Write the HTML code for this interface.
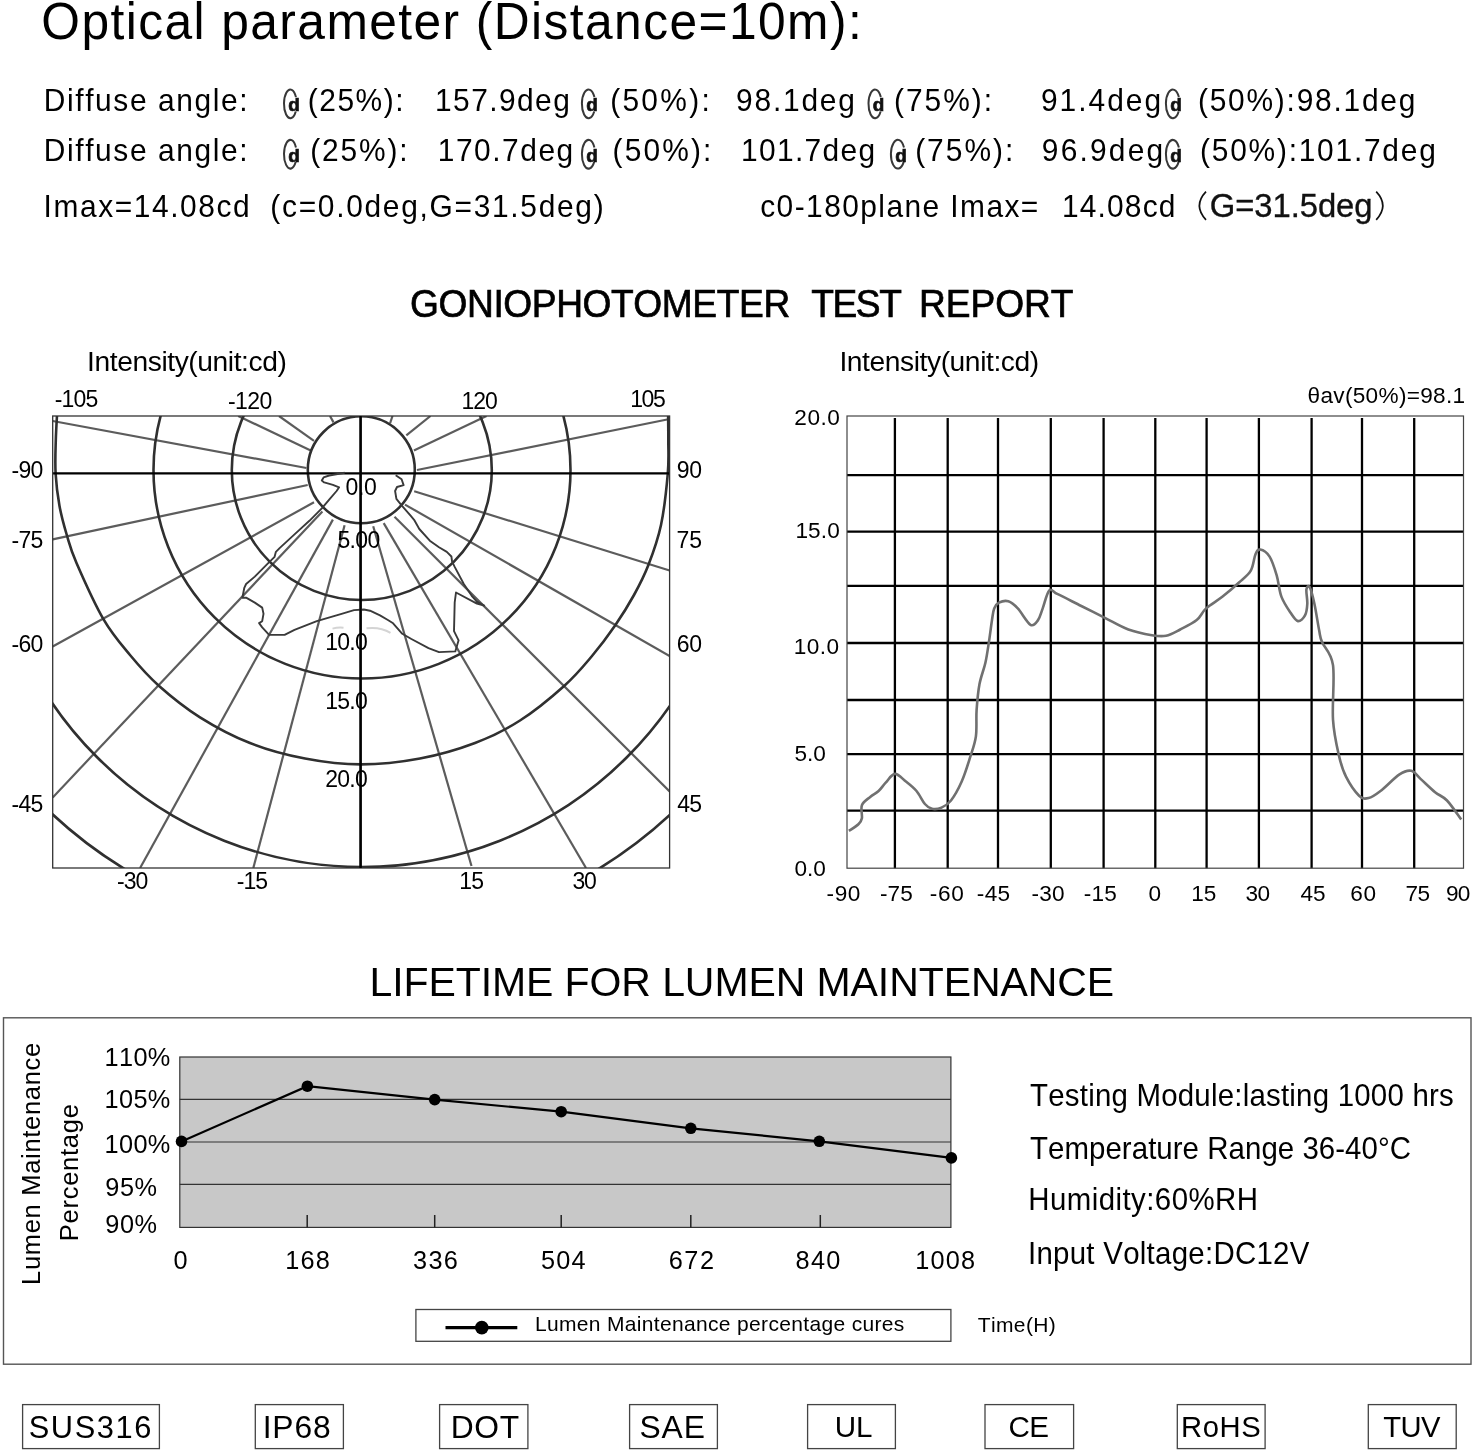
<!DOCTYPE html>
<html><head><meta charset="utf-8"><style>
html,body{margin:0;padding:0;background:#fff;}
svg{display:block;filter:blur(0.35px);}
text{font-family:"Liberation Sans",sans-serif;font-kerning:none;}
</style></head><body>
<svg width="1474" height="1451" viewBox="0 0 1474 1451">
<rect width="1474" height="1451" fill="#fff"/>
<text transform="translate(41.34,39.00) scale(0.96,1)" font-size="51.8" letter-spacing="1.474" fill="#000">Optical parameter (Distance=10m):</text>
<text transform="translate(43.85,110.60) scale(0.95,1)" font-size="31.5" letter-spacing="1.676" fill="#000">Diffuse angle:</text>
<path d="M295.96,97.11 A6.35,14.35 0 1 0 295.74,111.45" fill="none" stroke="#383838" stroke-width="2.0"/>
<text x="288.23" y="111.40" font-size="18.86" font-weight="bold" fill="#111" stroke="#111" stroke-width="0.7">d</text>
<text transform="translate(307.84,110.60) scale(0.95,1)" font-size="31.5" letter-spacing="1.589" fill="#000">(25%):</text>
<text transform="translate(435.02,110.60) scale(0.95,1)" font-size="31.5" letter-spacing="1.503" fill="#000">157.9deg</text>
<path d="M594.42,97.11 A6.65,14.35 0 1 0 594.19,111.45" fill="none" stroke="#383838" stroke-width="2.0"/>
<text x="586.13" y="111.40" font-size="18.86" font-weight="bold" fill="#111" stroke="#111" stroke-width="0.7">d</text>
<text transform="translate(610.14,110.60) scale(0.95,1)" font-size="31.5" letter-spacing="2.410" fill="#000">(50%):</text>
<text transform="translate(736.10,110.60) scale(0.95,1)" font-size="31.5" letter-spacing="1.853" fill="#000">98.1deg</text>
<path d="M880.83,97.11 A6.55,14.35 0 1 0 880.60,111.45" fill="none" stroke="#383838" stroke-width="2.0"/>
<text x="872.73" y="111.40" font-size="18.86" font-weight="bold" fill="#111" stroke="#111" stroke-width="0.7">d</text>
<text transform="translate(893.94,110.60) scale(0.95,1)" font-size="31.5" letter-spacing="2.116" fill="#000">(75%):</text>
<text transform="translate(1040.90,110.60) scale(0.95,1)" font-size="31.5" letter-spacing="2.116" fill="#000">91.4deg</text>
<path d="M1178.89,97.11 A6.90,14.35 0 1 0 1178.65,111.45" fill="none" stroke="#383838" stroke-width="2.0"/>
<text x="1170.13" y="111.40" font-size="18.86" font-weight="bold" fill="#111" stroke="#111" stroke-width="0.7">d</text>
<text transform="translate(1197.94,110.60) scale(0.95,1)" font-size="31.5" letter-spacing="1.857" fill="#000">(50%):98.1deg</text>
<text transform="translate(43.85,161.00) scale(0.95,1)" font-size="31.5" letter-spacing="1.676" fill="#000">Diffuse angle:</text>
<path d="M295.96,147.51 A6.35,14.35 0 1 0 295.74,161.85" fill="none" stroke="#383838" stroke-width="2.0"/>
<text x="288.23" y="161.80" font-size="18.86" font-weight="bold" fill="#111" stroke="#111" stroke-width="0.7">d</text>
<text transform="translate(310.34,161.00) scale(0.95,1)" font-size="31.5" letter-spacing="1.905" fill="#000">(25%):</text>
<text transform="translate(437.72,161.00) scale(0.95,1)" font-size="31.5" letter-spacing="1.608" fill="#000">170.7deg</text>
<path d="M594.42,147.51 A6.65,14.35 0 1 0 594.19,161.85" fill="none" stroke="#383838" stroke-width="2.0"/>
<text x="586.13" y="161.80" font-size="18.86" font-weight="bold" fill="#111" stroke="#111" stroke-width="0.7">d</text>
<text transform="translate(612.54,161.00) scale(0.95,1)" font-size="31.5" letter-spacing="2.263" fill="#000">(50%):</text>
<text transform="translate(741.02,161.00) scale(0.95,1)" font-size="31.5" letter-spacing="1.398" fill="#000">101.7deg</text>
<path d="M903.99,147.51 A6.95,14.35 0 1 0 903.74,161.85" fill="none" stroke="#383838" stroke-width="2.0"/>
<text x="895.13" y="161.80" font-size="18.86" font-weight="bold" fill="#111" stroke="#111" stroke-width="0.7">d</text>
<text transform="translate(915.14,161.00) scale(0.95,1)" font-size="31.5" letter-spacing="2.116" fill="#000">(75%):</text>
<text transform="translate(1041.80,161.00) scale(0.95,1)" font-size="31.5" letter-spacing="2.309" fill="#000">96.9deg</text>
<path d="M1178.89,147.51 A6.90,14.35 0 1 0 1178.65,161.85" fill="none" stroke="#383838" stroke-width="2.0"/>
<text x="1170.13" y="161.80" font-size="18.86" font-weight="bold" fill="#111" stroke="#111" stroke-width="0.7">d</text>
<text transform="translate(1200.04,161.00) scale(0.95,1)" font-size="31.5" letter-spacing="1.849" fill="#000">(50%):101.7deg</text>
<text transform="translate(43.54,217.30) scale(0.95,1)" font-size="31.5" letter-spacing="1.653" fill="#000">Imax=14.08cd</text>
<text transform="translate(270.34,217.30) scale(0.95,1)" font-size="31.5" letter-spacing="1.783" fill="#000">(c=0.0deg,G=31.5deg)</text>
<text transform="translate(760.23,217.30) scale(0.95,1)" font-size="31.5" letter-spacing="1.499" fill="#000">c0-180plane Imax=</text>
<text transform="translate(1061.92,217.30) scale(0.95,1)" font-size="31.5" letter-spacing="1.231" fill="#000">14.08cd</text>
<path d="M1206,191.6 Q1192.8,205.6 1206,219.8" fill="none" stroke="#111" stroke-width="1.7"/>
<text x="1209.85" y="216.90" font-size="32.8" letter-spacing="-0.071" fill="#111" stroke="#111" stroke-width="0.35">G=31.5deg</text>
<path d="M1376.2,191.6 Q1389.4,205.6 1376.2,219.8" fill="none" stroke="#111" stroke-width="1.7"/>
<text transform="translate(410.03,316.90) scale(0.96,1)" font-size="38.7" letter-spacing="-0.423" fill="#000" stroke="#000" stroke-width="0.7">GONIOPHOTOMETER</text>
<text transform="translate(811.17,316.90) scale(0.96,1)" font-size="38.7" letter-spacing="-1.479" fill="#000" stroke="#000" stroke-width="0.7">TEST</text>
<text transform="translate(918.95,316.90) scale(0.96,1)" font-size="38.7" letter-spacing="-0.044" fill="#000" stroke="#000" stroke-width="0.7">REPORT</text>
<defs><clipPath id="pc"><rect x="52.7" y="416.0" width="616.9" height="452.0"/></clipPath></defs>
<g clip-path="url(#pc)" fill="none">
<line x1="306.4" y1="468.0" x2="52.7" y2="421.0" stroke="#5c5c5c" stroke-width="2.2"/>
<line x1="310.7" y1="450.6" x2="238.2" y2="416.0" stroke="#5c5c5c" stroke-width="2.2"/>
<line x1="314.0" y1="440.8" x2="279.0" y2="416.0" stroke="#5c5c5c" stroke-width="2.2"/>
<line x1="333.5" y1="422.4" x2="330.0" y2="416.0" stroke="#5c5c5c" stroke-width="2.2"/>
<line x1="390.0" y1="423.5" x2="392.5" y2="416.0" stroke="#5c5c5c" stroke-width="2.2"/>
<line x1="406.3" y1="435.4" x2="430.5" y2="416.0" stroke="#5c5c5c" stroke-width="2.2"/>
<line x1="413.9" y1="450.6" x2="486.5" y2="416.0" stroke="#5c5c5c" stroke-width="2.2"/>
<line x1="417.0" y1="470.0" x2="669.6" y2="419.0" stroke="#5c5c5c" stroke-width="2.2"/>
<line x1="307.7" y1="485.0" x2="52.7" y2="539.3" stroke="#5c5c5c" stroke-width="2.2"/>
<line x1="314.0" y1="502.3" x2="52.7" y2="646.5" stroke="#5c5c5c" stroke-width="2.2"/>
<line x1="322.4" y1="511.5" x2="52.7" y2="797.5" stroke="#5c5c5c" stroke-width="2.2"/>
<line x1="332.9" y1="519.6" x2="140.1" y2="868.0" stroke="#5c5c5c" stroke-width="2.2"/>
<line x1="344.6" y1="525.2" x2="253.3" y2="868.0" stroke="#5c5c5c" stroke-width="2.2"/>
<line x1="373.2" y1="526.3" x2="471.5" y2="866.0" stroke="#5c5c5c" stroke-width="2.2"/>
<line x1="383.7" y1="523.1" x2="586.0" y2="868.0" stroke="#5c5c5c" stroke-width="2.2"/>
<line x1="394.5" y1="516.7" x2="669.6" y2="791.5" stroke="#5c5c5c" stroke-width="2.2"/>
<line x1="405.0" y1="504.6" x2="669.6" y2="656.0" stroke="#5c5c5c" stroke-width="2.2"/>
<line x1="414.2" y1="491.2" x2="669.6" y2="570.5" stroke="#5c5c5c" stroke-width="2.2"/>
<circle cx="361.3" cy="469.8" r="53.5" stroke="#303030" stroke-width="2.6"/>
<circle cx="361.8" cy="470" r="130" stroke="#303030" stroke-width="2.6"/>
<circle cx="362" cy="470" r="208.5" stroke="#303030" stroke-width="2.6"/>
<path d="M57.60,405.00 C57.30,410.83 56.13,428.60 55.80,440.00 C55.47,451.40 54.98,462.40 55.60,473.40 C56.22,484.40 57.63,495.73 59.50,506.00 C61.37,516.27 63.97,525.50 66.80,535.00 C69.63,544.50 70.40,548.98 76.50,563.00 C82.60,577.02 94.48,603.77 103.40,619.10 C112.32,634.43 120.77,643.90 130.00,655.00 C139.23,666.10 147.13,675.32 158.80,685.70 C170.47,696.08 184.80,707.75 200.00,717.30 C215.20,726.85 232.50,736.13 250.00,743.00 C267.50,749.87 286.50,754.93 305.00,758.50 C323.50,762.07 341.83,764.40 361.00,764.40 C380.17,764.40 401.00,762.07 420.00,758.50 C439.00,754.93 458.33,749.33 475.00,743.00 C491.67,736.67 505.10,730.05 520.00,720.50 C534.90,710.95 552.40,696.45 564.40,685.70 C576.40,674.95 583.55,666.03 592.00,656.00 C600.45,645.97 608.10,635.67 615.10,625.50 C622.10,615.33 628.47,605.03 634.00,595.00 C639.53,584.97 643.80,576.97 648.30,565.30 C652.80,553.63 657.75,540.32 661.00,525.00 C664.25,509.68 666.58,487.57 667.80,473.40 C669.02,459.23 668.27,451.40 668.30,440.00 C668.33,428.60 668.05,410.83 668.00,405.00" stroke="#303030" stroke-width="2.6"/>
<circle cx="362" cy="492.4" r="374.6" stroke="#303030" stroke-width="2.6"/>
<circle cx="361.5" cy="480.9" r="454.6" stroke="#303030" stroke-width="2.6"/>
<line x1="52.7" y1="473.3" x2="669.6" y2="473.3" stroke="#000" stroke-width="2.2"/>
<line x1="360.6" y1="416" x2="360.6" y2="868" stroke="#000" stroke-width="2.2"/>
<path d="M344.7,472.7 L329.2,475.5 L323.6,477.4 L321.8,480.5 L324.2,482.4 L332.9,484.8 L339.1,487.3 L336.6,491 L329.2,499.7 L321.8,508.4 L309.4,520.8 L294.5,534.4 L279.6,548.1 L275.9,551.8 L274.6,556.8 L267.2,564.2 L254.8,576.6 L246.1,584 L244.3,587.8 L242.4,597.7 L246.1,597.7 L254.8,602.6 L262.2,607.6 L263.5,613.8 L262.2,621.2 L259.1,623.1 L262.2,627.4 L269.1,634.9 L284.6,634.9 L294.5,629.9 L316.8,621.2 L341.6,613.8 L354,610.1 L363.9,609.5 L370,610.7 L380,615.4 L387.9,620 L393.1,623.3 L402.3,633.8 L411.4,639 L428.5,648.2 L439,652.1 L455.3,651.4 L458.6,640.3 L454,631.1 L454.7,602.3 L456,592.5 L476.9,603.6 L484.2,605.6 L476.9,601.7 L471.7,595.8 L463.8,584 L454.7,566.9 L452.1,561.7 L451.4,556.5 L446.8,551.9 L439,547.3 L429.8,540.7 L419.3,529 L414.1,519.8 L410.8,515.9 L401.6,505.4 L396.4,498.8 L395.1,491 L397,487 L403.6,485.1 L401.6,479.2 L395.7,475.2" stroke="#3a3a3a" stroke-width="1.9" stroke-linejoin="round" fill="none"/>
<path d="M332.5,628.6 Q338,627.2 343.5,627.8" stroke="#d4d4d4" stroke-width="2" fill="none"/>
<path d="M366.5,628.3 Q380,626.5 390.5,632.8" stroke="#d4d4d4" stroke-width="2" fill="none"/>
</g>
<rect x="52.7" y="416.0" width="616.9" height="452.0" fill="none" stroke="#333" stroke-width="1.3"/>
<text x="87.10" y="370.60" font-size="28.2" letter-spacing="-0.414" fill="#000">Intensity(unit:cd)</text>
<text x="54.68" y="406.90" font-size="23" letter-spacing="-0.815" fill="#000">-105</text>
<text x="227.98" y="409.00" font-size="23" letter-spacing="-0.538" fill="#000">-120</text>
<text x="461.45" y="409.00" font-size="23" letter-spacing="-1.062" fill="#000">120</text>
<text x="630.25" y="406.90" font-size="23" letter-spacing="-1.478" fill="#000">105</text>
<text x="11.58" y="477.50" font-size="23" letter-spacing="-0.761" fill="#000">-90</text>
<text x="11.58" y="548.20" font-size="23" letter-spacing="-0.727" fill="#000">-75</text>
<text x="11.58" y="651.70" font-size="23" letter-spacing="-0.761" fill="#000">-60</text>
<text x="11.58" y="811.50" font-size="23" letter-spacing="-0.727" fill="#000">-45</text>
<text x="676.72" y="477.50" font-size="23" letter-spacing="-0.306" fill="#000">90</text>
<text x="676.62" y="548.20" font-size="23" letter-spacing="-0.138" fill="#000">75</text>
<text x="676.63" y="651.70" font-size="23" letter-spacing="-0.217" fill="#000">60</text>
<text x="677.27" y="811.50" font-size="23" letter-spacing="-0.789" fill="#000">45</text>
<text x="117.08" y="889.00" font-size="23" letter-spacing="-0.961" fill="#000">-30</text>
<text x="236.78" y="889.00" font-size="23" letter-spacing="-0.977" fill="#000">-15</text>
<text x="459.25" y="889.00" font-size="23" letter-spacing="-0.865" fill="#000">15</text>
<text x="572.52" y="889.00" font-size="23" letter-spacing="-1.409" fill="#000">30</text>
<text x="345.50" y="495.00" font-size="23" letter-spacing="-0.338" fill="#000">0.0</text>
<text x="337.48" y="548.40" font-size="23" letter-spacing="-0.682" fill="#000">5.00</text>
<text x="325.25" y="649.50" font-size="23" letter-spacing="-0.771" fill="#000">10.0</text>
<text x="325.25" y="708.60" font-size="23" letter-spacing="-0.771" fill="#000">15.0</text>
<text x="325.24" y="787.00" font-size="23" letter-spacing="-0.770" fill="#000">20.0</text>
<line x1="360.6" y1="416" x2="360.6" y2="868" stroke="#000" stroke-width="2.2"/>
<line x1="894.9" y1="418" x2="894.9" y2="868.2" stroke="#000" stroke-width="2.3"/>
<line x1="947.7" y1="418" x2="947.7" y2="868.2" stroke="#000" stroke-width="2.3"/>
<line x1="998.0" y1="418" x2="998.0" y2="868.2" stroke="#000" stroke-width="2.3"/>
<line x1="1050.8" y1="418" x2="1050.8" y2="868.2" stroke="#000" stroke-width="2.3"/>
<line x1="1103.6" y1="418" x2="1103.6" y2="868.2" stroke="#000" stroke-width="2.3"/>
<line x1="1155.3" y1="418" x2="1155.3" y2="868.2" stroke="#000" stroke-width="2.3"/>
<line x1="1206.6" y1="418" x2="1206.6" y2="868.2" stroke="#000" stroke-width="2.3"/>
<line x1="1258.9" y1="418" x2="1258.9" y2="868.2" stroke="#000" stroke-width="2.3"/>
<line x1="1311.6" y1="418" x2="1311.6" y2="868.2" stroke="#000" stroke-width="2.3"/>
<line x1="1362.0" y1="418" x2="1362.0" y2="868.2" stroke="#000" stroke-width="2.3"/>
<line x1="1414.2" y1="418" x2="1414.2" y2="868.2" stroke="#000" stroke-width="2.3"/>
<line x1="847.0" y1="475.1" x2="1463.5" y2="475.1" stroke="#000" stroke-width="2.3"/>
<line x1="847.0" y1="531.7" x2="1463.5" y2="531.7" stroke="#000" stroke-width="2.3"/>
<line x1="847.0" y1="585.8" x2="1463.5" y2="585.8" stroke="#000" stroke-width="2.3"/>
<line x1="847.0" y1="643.0" x2="1463.5" y2="643.0" stroke="#000" stroke-width="2.3"/>
<line x1="847.0" y1="700.0" x2="1463.5" y2="700.0" stroke="#000" stroke-width="2.3"/>
<line x1="847.0" y1="754.2" x2="1463.5" y2="754.2" stroke="#000" stroke-width="2.3"/>
<line x1="847.0" y1="810.7" x2="1463.5" y2="810.7" stroke="#000" stroke-width="2.3"/>
<rect x="847.0" y="416.0" width="616.5" height="452.20000000000005" fill="none" stroke="#444" stroke-width="1.2"/>
<path d="M848.90,830.90 C850.48,829.78 856.23,826.30 858.40,824.20 C860.57,822.10 861.32,821.47 861.90,818.30 C862.48,815.13 860.52,808.77 861.90,805.20 C863.28,801.63 867.42,799.27 870.20,796.90 C872.98,794.53 876.02,793.37 878.60,791.00 C881.18,788.63 882.98,785.55 885.70,782.70 C888.42,779.85 891.53,774.10 894.90,773.90 C898.27,773.70 902.30,778.65 905.90,781.50 C909.50,784.35 913.33,787.25 916.50,791.00 C919.67,794.75 922.32,801.03 924.90,804.00 C927.48,806.97 929.23,808.20 932.00,808.80 C934.77,809.40 938.33,808.98 941.50,807.60 C944.67,806.22 947.63,804.85 951.00,800.50 C954.37,796.15 958.53,788.63 961.70,781.50 C964.87,774.37 967.63,765.22 970.00,757.70 C972.37,750.18 974.80,744.32 975.90,736.40 C977.00,728.48 976.00,718.92 976.60,710.20 C977.20,701.48 978.03,692.02 979.50,684.10 C980.97,676.18 983.82,669.82 985.40,662.70 C986.98,655.58 987.90,648.52 989.00,641.40 C990.10,634.28 991.13,625.50 992.00,620.00 C992.87,614.50 993.05,611.28 994.20,608.40 C995.35,605.52 996.55,603.88 998.90,602.70 C1001.25,601.52 1005.15,600.35 1008.30,601.30 C1011.45,602.25 1014.10,604.48 1017.80,608.40 C1021.50,612.32 1027.13,622.85 1030.50,624.80 C1033.87,626.75 1035.97,622.83 1038.00,620.10 C1040.03,617.37 1040.82,613.33 1042.70,608.40 C1044.58,603.47 1046.78,592.87 1049.30,590.50 C1051.82,588.13 1052.47,591.62 1057.80,594.20 C1063.13,596.78 1073.45,602.07 1081.30,606.00 C1089.15,609.93 1097.05,613.88 1104.90,617.80 C1112.75,621.72 1120.57,626.60 1128.40,629.50 C1136.23,632.40 1145.62,634.17 1151.90,635.20 C1158.18,636.23 1161.38,636.65 1166.10,635.70 C1170.82,634.75 1175.10,632.10 1180.20,629.50 C1185.30,626.90 1192.38,623.62 1196.70,620.10 C1201.02,616.58 1201.78,612.32 1206.10,608.40 C1210.42,604.48 1217.12,600.92 1222.60,596.60 C1228.08,592.28 1234.30,586.82 1239.00,582.50 C1243.70,578.18 1248.05,575.42 1250.80,570.70 C1253.55,565.98 1253.93,557.73 1255.50,554.20 C1257.07,550.67 1257.85,549.10 1260.20,549.50 C1262.55,549.90 1266.85,552.28 1269.60,556.60 C1272.35,560.92 1274.73,568.73 1276.70,575.40 C1278.67,582.07 1279.05,590.32 1281.40,596.60 C1283.75,602.88 1288.05,609.02 1290.80,613.10 C1293.55,617.18 1295.53,620.72 1297.90,621.10 C1300.27,621.48 1303.43,618.30 1305.00,615.40 C1306.57,612.50 1307.07,608.02 1307.30,603.70 C1307.53,599.38 1306.00,592.25 1306.40,589.50 C1306.80,586.75 1308.37,584.83 1309.70,587.20 C1311.03,589.57 1312.83,596.57 1314.40,603.70 C1315.97,610.83 1317.83,623.62 1319.10,630.00 C1320.37,636.38 1319.68,636.15 1322.00,642.00 C1324.32,647.85 1331.17,652.15 1333.00,665.10 C1334.83,678.05 1332.02,704.65 1333.00,719.70 C1333.98,734.75 1336.73,745.90 1338.90,755.40 C1341.07,764.90 1342.63,769.98 1346.00,776.70 C1349.37,783.42 1355.33,792.13 1359.10,795.70 C1362.87,799.27 1365.03,798.88 1368.60,798.10 C1372.17,797.32 1375.35,794.95 1380.50,791.00 C1385.65,787.05 1394.37,777.77 1399.50,774.40 C1404.63,771.03 1407.75,770.02 1411.30,770.80 C1414.85,771.58 1416.83,775.53 1420.80,779.10 C1424.77,782.67 1430.73,788.63 1435.10,792.20 C1439.47,795.77 1442.65,795.95 1447.00,800.50 C1451.35,805.05 1458.83,816.33 1461.20,819.50" stroke="#707070" stroke-width="2.6" fill="none" stroke-linejoin="round"/>
<text x="839.40" y="370.60" font-size="28.2" letter-spacing="-0.414" fill="#000">Intensity(unit:cd)</text>
<text x="1307.53" y="403.30" font-size="22.6" letter-spacing="0.314" fill="#000">θav(50%)=98.1</text>
<text x="794.36" y="425.10" font-size="22.6" letter-spacing="0.511" fill="#000">20.0</text>
<text x="795.38" y="538.40" font-size="22.6" letter-spacing="0.173" fill="#000">15.0</text>
<text x="793.68" y="654.40" font-size="22.6" letter-spacing="0.473" fill="#000">10.0</text>
<text x="794.50" y="761.30" font-size="22.6" letter-spacing="-0.015" fill="#000">5.0</text>
<text x="794.52" y="875.80" font-size="22.6" letter-spacing="-0.026" fill="#000">0.0</text>
<text x="826.50" y="900.60" font-size="22.6" letter-spacing="0.611" fill="#000">-90</text>
<text x="880.00" y="900.60" font-size="22.6" letter-spacing="0.045" fill="#000">-75</text>
<text x="929.80" y="900.60" font-size="22.6" letter-spacing="0.661" fill="#000">-60</text>
<text x="976.80" y="900.60" font-size="22.6" letter-spacing="0.345" fill="#000">-45</text>
<text x="1031.40" y="900.60" font-size="22.6" letter-spacing="0.311" fill="#000">-30</text>
<text x="1083.70" y="900.60" font-size="22.6" letter-spacing="0.295" fill="#000">-15</text>
<text x="1148.62" y="900.60" font-size="22.6" letter-spacing="0.000" fill="#000">0</text>
<text x="1191.18" y="900.60" font-size="22.6" letter-spacing="0.032" fill="#000">15</text>
<text x="1245.44" y="900.60" font-size="22.6" letter-spacing="-0.395" fill="#000">30</text>
<text x="1300.38" y="900.60" font-size="22.6" letter-spacing="0.130" fill="#000">45</text>
<text x="1350.35" y="900.60" font-size="22.6" letter-spacing="0.592" fill="#000">60</text>
<text x="1405.44" y="900.60" font-size="22.6" letter-spacing="-0.430" fill="#000">75</text>
<text x="1445.94" y="900.60" font-size="22.6" letter-spacing="-0.696" fill="#000">90</text>
<text x="369.44" y="995.70" font-size="41" letter-spacing="-0.088" fill="#000">LIFETIME FOR LUMEN MAINTENANCE</text>
<rect x="3.5" y="1017.8" width="1467.5" height="346.4" fill="none" stroke="#555" stroke-width="1.4"/>
<rect x="179.8" y="1057.0" width="771.0999999999999" height="170.4000000000001" fill="#c8c8c8" stroke="#333" stroke-width="1.2"/>
<line x1="179.8" y1="1099.3" x2="950.9" y2="1099.3" stroke="#333" stroke-width="1.2"/>
<line x1="179.8" y1="1142.0" x2="950.9" y2="1142.0" stroke="#333" stroke-width="1.2"/>
<line x1="179.8" y1="1184.4" x2="950.9" y2="1184.4" stroke="#333" stroke-width="1.2"/>
<line x1="307.2" y1="1215" x2="307.2" y2="1227.4" stroke="#222" stroke-width="1.5"/>
<line x1="434.7" y1="1215" x2="434.7" y2="1227.4" stroke="#222" stroke-width="1.5"/>
<line x1="561.2" y1="1215" x2="561.2" y2="1227.4" stroke="#222" stroke-width="1.5"/>
<line x1="690.8" y1="1215" x2="690.8" y2="1227.4" stroke="#222" stroke-width="1.5"/>
<line x1="820.3" y1="1215" x2="820.3" y2="1227.4" stroke="#222" stroke-width="1.5"/>
<polyline points="181.5,1141.4 307.4,1086.2 434.7,1099.6 561.2,1111.7 690.8,1128.3 819.3,1141.3 951.4,1157.9" fill="none" stroke="#000" stroke-width="2.2"/>
<circle cx="181.5" cy="1141.4" r="5.8" fill="#000"/>
<circle cx="307.4" cy="1086.2" r="5.8" fill="#000"/>
<circle cx="434.7" cy="1099.6" r="5.8" fill="#000"/>
<circle cx="561.2" cy="1111.7" r="5.8" fill="#000"/>
<circle cx="690.8" cy="1128.3" r="5.8" fill="#000"/>
<circle cx="819.3" cy="1141.3" r="5.8" fill="#000"/>
<circle cx="951.4" cy="1157.9" r="5.8" fill="#000"/>
<text x="104.57" y="1065.60" font-size="25.3" letter-spacing="0.340" fill="#000">110%</text>
<text x="104.57" y="1107.80" font-size="25.3" letter-spacing="0.340" fill="#000">105%</text>
<text x="104.57" y="1152.50" font-size="25.3" letter-spacing="0.340" fill="#000">100%</text>
<text x="105.31" y="1196.30" font-size="25.3" letter-spacing="0.575" fill="#000">95%</text>
<text x="105.31" y="1232.70" font-size="25.3" letter-spacing="0.575" fill="#000">90%</text>
<text x="173.51" y="1268.50" font-size="25.3" letter-spacing="0.000" fill="#000">0</text>
<text x="285.17" y="1268.50" font-size="25.3" letter-spacing="1.257" fill="#000">168</text>
<text x="413.04" y="1268.50" font-size="25.3" letter-spacing="1.332" fill="#000">336</text>
<text x="540.99" y="1268.50" font-size="25.3" letter-spacing="1.171" fill="#000">504</text>
<text x="668.72" y="1268.50" font-size="25.3" letter-spacing="1.573" fill="#000">672</text>
<text x="795.60" y="1268.50" font-size="25.3" letter-spacing="1.288" fill="#000">840</text>
<text x="915.27" y="1268.50" font-size="25.3" letter-spacing="1.181" fill="#000">1008</text>
<text transform="translate(40.40,1282.90) rotate(-90)" x="-2.09" y="0" font-size="25.5" letter-spacing="0.697" fill="#000">Lumen Maintenance</text>
<text transform="translate(77.60,1239.20) rotate(-90)" x="-2.09" y="0" font-size="25.5" letter-spacing="0.744" fill="#000">Percentage</text>
<rect x="415.9" y="1309.5" width="535" height="31.8" fill="none" stroke="#444" stroke-width="1.3"/>
<line x1="445.5" y1="1327.6" x2="517.3" y2="1327.6" stroke="#000" stroke-width="3.3"/>
<circle cx="481.8" cy="1327.6" r="6.8" fill="#000"/>
<text x="534.88" y="1330.90" font-size="21" letter-spacing="0.336" fill="#000">Lumen Maintenance percentage cures</text>
<text x="977.73" y="1331.50" font-size="21" letter-spacing="0.376" fill="#000">Time(H)</text>
<text transform="translate(1030.04,1105.80) scale(0.95,1)" font-size="31.0" letter-spacing="0.227" fill="#000">Testing Module:lasting 1000 hrs</text>
<text transform="translate(1030.04,1158.50) scale(0.95,1)" font-size="31.0" letter-spacing="0.047" fill="#000">Temperature Range 36-40°C</text>
<text transform="translate(1028.28,1210.40) scale(0.95,1)" font-size="31.0" letter-spacing="0.454" fill="#000">Humidity:60%RH</text>
<text transform="translate(1027.98,1263.80) scale(0.95,1)" font-size="31.0" letter-spacing="0.284" fill="#000">Input Voltage:DC12V</text>
<rect x="22.6" y="1404.6" width="136.8" height="44" fill="none" stroke="#444" stroke-width="1.3"/>
<text x="28.70" y="1438.20" font-size="30.8" letter-spacing="1.607" fill="#000">SUS316</text>
<rect x="255.3" y="1404.6" width="88.1" height="44" fill="none" stroke="#444" stroke-width="1.3"/>
<text x="262.67" y="1438.00" font-size="31.8" letter-spacing="0.867" fill="#000">IP68</text>
<rect x="439.6" y="1404.6" width="88.3" height="44" fill="none" stroke="#444" stroke-width="1.3"/>
<text x="450.79" y="1438.30" font-size="31.8" letter-spacing="0.607" fill="#000">DOT</text>
<rect x="629.6" y="1404.6" width="87.8" height="44" fill="none" stroke="#444" stroke-width="1.3"/>
<text x="639.46" y="1438.30" font-size="31.8" letter-spacing="0.940" fill="#000">SAE</text>
<rect x="807.6" y="1404.6" width="87.8" height="44" fill="none" stroke="#444" stroke-width="1.3"/>
<text x="834.72" y="1437.40" font-size="29.6" letter-spacing="0.028" fill="#000">UL</text>
<rect x="985.0" y="1404.6" width="88.6" height="44" fill="none" stroke="#444" stroke-width="1.3"/>
<text x="1008.50" y="1437.40" font-size="29.6" letter-spacing="-0.544" fill="#000">CE</text>
<rect x="1177.3" y="1404.6" width="87.8" height="44" fill="none" stroke="#444" stroke-width="1.3"/>
<text x="1180.90" y="1437.40" font-size="29.2" letter-spacing="0.682" fill="#000">RoHS</text>
<rect x="1368.3" y="1404.6" width="87.9" height="44" fill="none" stroke="#444" stroke-width="1.3"/>
<text x="1383.34" y="1437.40" font-size="29.2" letter-spacing="-0.558" fill="#000">TUV</text>
</svg>
</body></html>
